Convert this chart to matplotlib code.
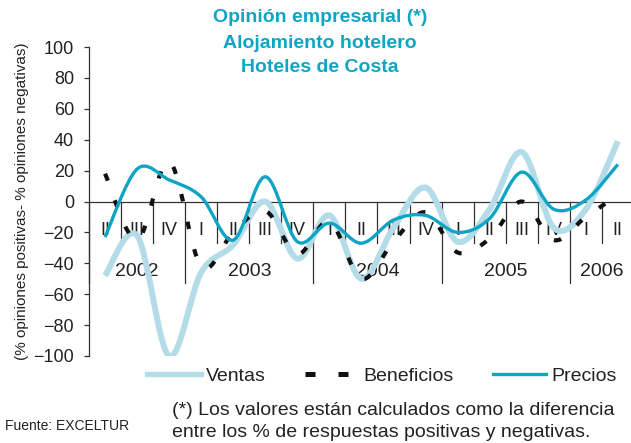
import matplotlib
matplotlib.use("Agg")
import matplotlib.pyplot as plt
from matplotlib.path import Path
from matplotlib.patches import PathPatch
from matplotlib.lines import Line2D
import numpy as np

plt.rcParams['font.family'] = ['Liberation Sans', 'DejaVu Sans']

# ---- data ----
quarters = ["II", "III", "IV", "I", "II", "III", "IV", "I", "II", "III", "IV",
            "I", "II", "III", "IV", "I", "II"]
years = ["2002", "2003", "2004", "2005", "2006"]
year_span = [(0, 2), (3, 6), (7, 10), (11, 14), (15, 16)]

ventas = [-48, -22, -100, -46, -28, 0, -37, -9, -50, -17, 9, -26, -5, 32, -17, -5, 39]
beneficios = [18, -25, 26, -42, -20, -6, -34, -13, -50, -26, -7, -33, -24, 0, -25, -10, 4]
precios = [-23, 21, 14, 3, -25, 16, -26, -14, -27, -12, -9, -20, -11, 19, -5, 1, 24]

title_lines = ["Opinión empresarial (*)", "Alojamiento hotelero", "Hoteles de Costa"]
ylabel = "(% opiniones positivas- % opiniones negativas)"

TEAL = "#0EA5C4"
LIGHT = "#B3DCE8"
DARK = "#333333"
TXT = "#222222"


def smooth_path(xs, ys):
    pts = np.column_stack([xs, ys]).astype(float)
    n = len(pts)
    verts = [pts[0]]
    codes = [Path.MOVETO]
    for i in range(n - 1):
        p0 = pts[i - 1] if i > 0 else pts[i]
        p1 = pts[i]
        p2 = pts[i + 1]
        p3 = pts[i + 2] if i + 2 < n else pts[i + 1]
        c1 = p1 + (p2 - p0) / 6.0
        c2 = p2 - (p3 - p1) / 6.0
        verts += [c1, c2, p2]
        codes += [Path.CURVE4] * 3
    return Path(verts, codes)


fig = plt.figure(figsize=(6.31, 4.43), dpi=100)
ax = fig.add_axes([89 / 631, 87 / 443, 542 / 631, 309 / 443])
ax.set_xlim(-0.5, 16.41)
ax.set_ylim(-100, 100)

x = np.arange(len(quarters))

ax.add_patch(PathPatch(smooth_path(x, ventas), fill=False, edgecolor=LIGHT,
                       lw=4.3, capstyle='butt', zorder=3))
bpatch = PathPatch(smooth_path(x, beneficios), fill=False, edgecolor="#111111",
                   lw=3.0, zorder=4, capstyle='butt')
bpatch.set_linestyle((0, (1.8, 5)))
ax.add_patch(bpatch)
ax.add_patch(PathPatch(smooth_path(x, precios), fill=False, edgecolor=TEAL,
                       lw=2.4, zorder=5, capstyle='butt'))

# axes styling
for s in ['top', 'right', 'bottom']:
    ax.spines[s].set_visible(False)
ax.spines['left'].set_color(DARK)
ax.spines['left'].set_linewidth(0.9)
ax.set_xticks([])
ax.set_yticks(np.arange(-100, 101, 20))
ax.tick_params(axis='y', direction='out', length=3.8, width=0.9, color=DARK,
               labelsize=13, pad=7, labelcolor=TXT)
ax.axhline(0, color=DARK, lw=0.9, zorder=2)

# category separators
for i in range(len(quarters)):
    xb = i - 0.5
    long_sep = (i == 0) or (quarters[i] == "I")
    ax.plot([xb, xb], [0, -53 if long_sep else -26.6], color=DARK, lw=0.9,
            zorder=2, clip_on=False)

for i, q in enumerate(quarters):
    ax.text(i, -18.5, q, ha='center', va='center', fontsize=13, color=TXT,
            zorder=1)
for yr, (a, b) in zip(years, year_span):
    ax.text((a + b) / 2, -45, yr, ha='center', va='center', fontsize=14,
            color=TXT, zorder=1)

# titles
for t, yy in zip(title_lines, [18, 43, 68]):
    fig.text(320 / 631, 1 - yy / 443, t, ha='center', va='center', fontsize=14,
             fontweight='bold', color=TEAL)

fig.text(22 / 631, 1 - 201 / 443, ylabel, rotation=90, ha='center', va='center',
         fontsize=11, color=TXT)

# legend
handles = [
    Line2D([], [], color=LIGHT, lw=3.8),
    Line2D([], [], color="#111111", lw=3.6, linestyle=(0, (2.0, 4.6))),
    Line2D([], [], color=TEAL, lw=2.4),
]
fig.legend(handles, ["Ventas", "Beneficios", "Precios"], ncol=3, frameon=False,
           loc='center', bbox_to_anchor=(382 / 631, 1 - 376 / 443),
           fontsize=14, handlelength=2.75, handletextpad=0.27,
           columnspacing=2.0, labelcolor=TXT, borderpad=0.2)

fig.text(5 / 631, 1 - 426 / 443, "Fuente: EXCELTUR", ha='left', va='center',
         fontsize=10, color=TXT)
fig.text(172 / 631, 1 - 415 / 443,
         "(*) Los valores están calculados como la diferencia",
         ha='left', va='baseline', fontsize=14, color=TXT)
fig.text(172 / 631, 1 - 437 / 443,
         "entre los % de respuestas positivas y negativas.",
         ha='left', va='baseline', fontsize=14, color=TXT)

fig.savefig("out.png", dpi=100)
